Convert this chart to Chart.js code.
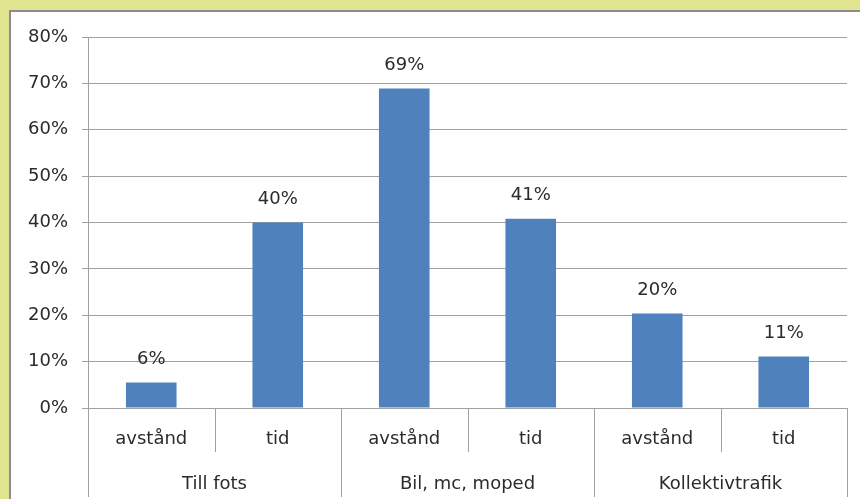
<!DOCTYPE html>
<html>
<head>
<meta charset="utf-8">
<script src="https://cdn.jsdelivr.net/npm/chart.js@4"></script>
<style>
  html, body { margin: 0; padding: 0; }
  body { width: 860px; height: 499px; background: #e1e590; position: relative; overflow: hidden; }
  #panel { position: absolute; left: 9px; top: 10px; width: 860px; height: 500px; background: #fff;
           border-left: 2px solid #8c8c8c; border-top: 2px solid #8c8c8c; box-sizing: border-box; }
  #wrap { position: absolute; left: 0; top: 0; width: 860px; height: 499px; }
</style>
</head>
<body>
<div id="panel"></div>
<div id="wrap"><canvas id="c" width="860" height="499"></canvas></div>
<script>
const categories = ["avstånd", "tid", "avstånd", "tid", "avstånd", "tid"];
const groups = ["Till fots", "Bil, mc, moped", "Kollektivtrafik"];
const groupSize = [2, 2, 2];
const values = [5.5, 40.0, 68.9, 40.8, 20.4, 11.1];
const yTicks = [0, 10, 20, 30, 40, 50, 60, 70, 80];

const FONT = "'DejaVu Sans', sans-serif";
const TEXT = '#2b2b2b';
const LINE = '#a0a0a0';

const multiLevel = {
  id: 'multiLevel',
  afterDatasetsDraw(chart) {
    const ctx = chart.ctx;
    const x = chart.scales.x;
    const area = chart.chartArea;
    const bottom = chart.height;
    const n = categories.length;
    const edge = i => i === 0 ? x.getPixelForValue(0) - (x.getPixelForValue(1) - x.getPixelForValue(0)) / 2
                               : (i === n ? x.getPixelForValue(n - 1) + (x.getPixelForValue(n - 1) - x.getPixelForValue(n - 2)) / 2
                                          : (x.getPixelForValue(i - 1) + x.getPixelForValue(i)) / 2);
    ctx.save();
    ctx.strokeStyle = LINE;
    ctx.lineWidth = 1;
    const bounds = [0];
    groupSize.forEach(s => bounds.push(bounds[bounds.length - 1] + s));
    for (let i = 0; i <= n; i++) {
      const px = Math.round(edge(i)) + 0.5;
      const isGroup = bounds.includes(i);
      ctx.beginPath();
      ctx.moveTo(px, area.bottom);
      ctx.lineTo(px, isGroup ? bottom - 2 : area.bottom + 44);
      ctx.stroke();
    }
    ctx.fillStyle = TEXT;
    ctx.font = "18px " + FONT;
    ctx.textAlign = 'center';
    ctx.textBaseline = 'middle';
    for (let g = 0; g < groups.length; g++) {
      const cx = (edge(bounds[g]) + edge(bounds[g + 1])) / 2;
      ctx.fillText(groups[g], cx, area.bottom + 76);
    }
    const meta = chart.getDatasetMeta(0);
    meta.data.forEach((bar, i) => {
      ctx.fillText(Math.round(values[i]) + '%', bar.x, bar.y - 23);
    });
    ctx.restore();
  }
};

new Chart(document.getElementById('c'), {
  type: 'bar',
  data: {
    labels: categories,
    datasets: [{
      data: values,
      backgroundColor: '#4f81bd',
      borderWidth: 0,
      barPercentage: 0.4,
      categoryPercentage: 1.0
    }]
  },
  options: {
    responsive: false,
    animation: false,
    layout: { padding: { top: 37, right: 13, left: 0, bottom: 0 } },
    plugins: { legend: { display: false }, tooltip: { enabled: false } },
    scales: {
      x: {
        grid: { display: false, drawTicks: false },
        border: { display: false },
        ticks: { color: TEXT, font: { family: FONT, size: 18 }, padding: 21, maxRotation: 0, autoSkip: false },
        afterFit(s) { s.height = 91; }
      },
      y: {
        min: 0, max: 80,
        afterBuildTicks(s) { s.ticks = yTicks.map(v => ({ value: v })); },
        ticks: { color: TEXT, font: { family: FONT, size: 18 }, padding: 14, callback: v => v + '%' },
        grid: { color: LINE, lineWidth: 1, tickLength: 6, drawTicks: true },
        border: { display: true, color: LINE, width: 1 },
        afterFit(s) { s.width = 88; }
      }
    }
  },
  plugins: [multiLevel]
});
</script>
</body>
</html>
